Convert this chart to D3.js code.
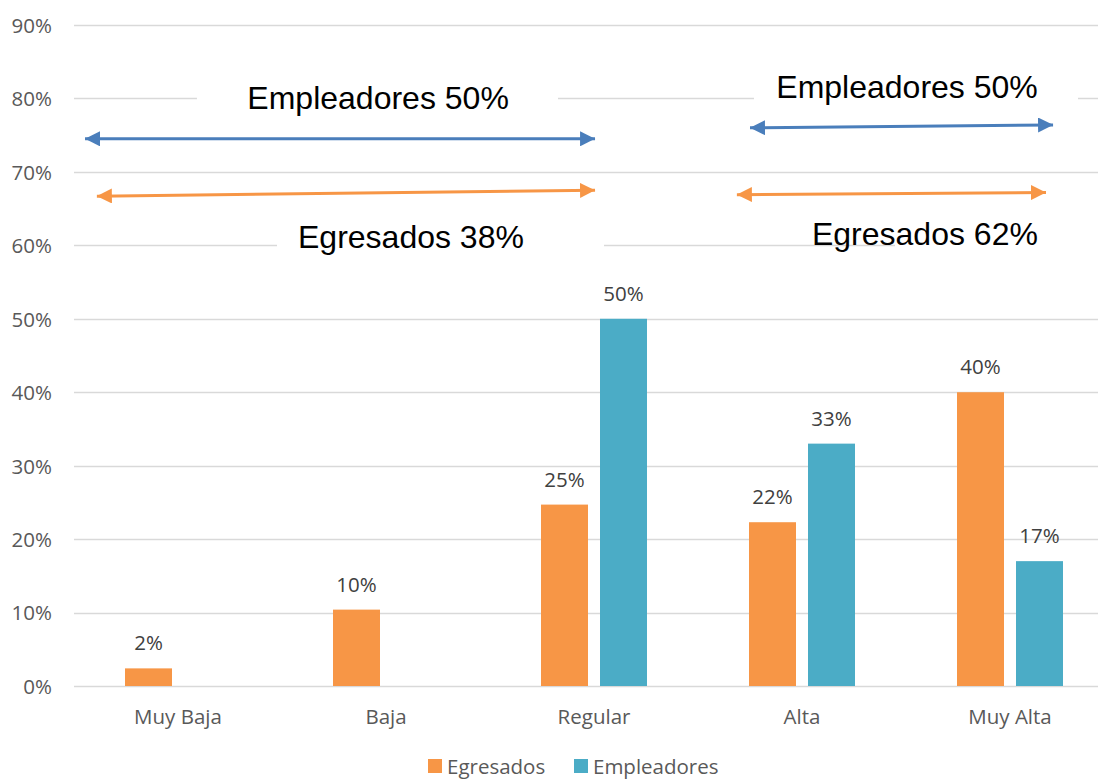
<!DOCTYPE html>
<html><head><meta charset="utf-8">
<script src="https://cdn.jsdelivr.net/npm/d3@7"></script>
<style>body{margin:0;background:#fff}</style>
</head><body>
<svg id="c" width="1098" height="780"></svg>
<script>
const categories = ["Muy Baja","Baja","Regular","Alta","Muy Alta"];
const series = ["Egresados","Empleadores"];
const egresados = [0.024, 0.104, 0.247, 0.223, 0.40];
const empleadores = [null, null, 0.50, 0.33, 0.17];
const egresadosLabels = ["2%","10%","25%","22%","40%"];
const empleadoresLabels = [null,null,"50%","33%","17%"];
const yTicks = [0,0.1,0.2,0.3,0.4,0.5,0.6,0.7,0.8,0.9];
// annotations: arrow endpoints in (category index, value)
const arrows = [
  {color:"#4A7EBB", x0:-0.447, y0:0.745, x1:2.005, y1:0.745},
  {color:"#F79646", x0:-0.39, y0:0.667, x1:2.005, y1:0.675},
  {color:"#4A7EBB", x0:2.75, y0:0.760, x1:4.207, y1:0.764},
  {color:"#F79646", x0:2.687, y0:0.669, x1:4.173, y1:0.672}
];
const notes = [
  {text:"Empleadores 50%", x:0.962, y:0.785, bx0:0.091, bx1:1.827},
  {text:"Egresados 38%", x:1.12, y:0.597, bx0:0.476, bx1:2.048},
  {text:"Empleadores 50%", x:3.505, y:0.80, bx0:2.769, bx1:4.327},
  {text:"Egresados 62%", x:3.591, y:0.60, bx0:3.447, bx1:4.913}
];
(function(){
const colors = {"Egresados":"#F79646","Empleadores":"#4BACC6"};
const FONT = "'Open Sans', Lato, sans-serif";
const FS = 20.5;

const svg = d3.select("#c");
const L = 74, R = 1114, T = 25, B = 686;
const x = d3.scaleBand().domain(categories).range([L,R]);
const xi = d3.scaleLinear().domain([-0.5,4.5]).range([L,R]);
const y = d3.scaleLinear().domain([0,0.9]).range([B,T]);
const bw = x.bandwidth();
const x1 = d3.scaleBand().domain(series).range([bw/2-53, bw/2+53]).paddingInner(0.2034);

svg.append("g").selectAll("line").data(yTicks).join("line")
  .attr("x1",L).attr("x2",1098).attr("y1",d=>Math.round(y(d))+0.5).attr("y2",d=>Math.round(y(d))+0.5)
  .attr("stroke","#d9d9d9").attr("stroke-width",1.5);

const yAxis = d3.axisLeft(y).tickValues(yTicks).tickFormat(d3.format(".0%")).tickSize(0).tickPadding(0);
const ga = svg.append("g").attr("transform",`translate(52,0)`).call(yAxis);
ga.select(".domain").remove();
ga.selectAll("text").attr("dy","0.36em").attr("font-family",FONT).attr("font-size",FS).attr("fill","#595959");

const gx = svg.append("g").attr("transform",`translate(0,${B})`).call(d3.axisBottom(x).tickSize(0).tickPadding(0));
gx.select(".domain").remove();
gx.selectAll("text").attr("dy",0).attr("y",38).attr("font-family",FONT).attr("font-size",FS).attr("fill","#595959");

const data = [];
categories.forEach((c,i)=>{
  data.push({c, s:"Egresados", v:egresados[i], l:egresadosLabels[i]});
  if (empleadores[i]!=null) data.push({c, s:"Empleadores", v:empleadores[i], l:empleadoresLabels[i]});
});
svg.append("g").selectAll("rect").data(data).join("rect")
  .attr("x",d=>x(d.c)+x1(d.s)).attr("width",x1.bandwidth())
  .attr("y",d=>y(d.v)).attr("height",d=>y(0)-y(d.v))
  .attr("fill",d=>colors[d.s]);
svg.append("g").selectAll("text").data(data).join("text")
  .attr("x",d=>x(d.c)+x1(d.s)+x1.bandwidth()/2).attr("y",d=>y(d.v)-18)
  .attr("text-anchor","middle").attr("font-family",FONT)
  .attr("font-size",FS).attr("fill","#404040").text(d=>d.l);

const ng = svg.append("g");
notes.forEach(n=>{
  ng.append("rect").attr("x",xi(n.bx0)).attr("width",xi(n.bx1)-xi(n.bx0))
    .attr("y",y(n.y)-34).attr("height",46).attr("fill","#fff");
  ng.append("text").attr("x",xi(n.x)).attr("y",y(n.y)).attr("text-anchor","middle")
    .attr("font-family","'Liberation Sans', Arial, sans-serif").attr("font-size",32).attr("fill","#000").text(n.text);
});

const defs = svg.append("defs");
["#4A7EBB","#F79646"].forEach((c,i)=>{
  defs.append("marker").attr("id","ah"+i).attr("viewBox","0 0 10 10").attr("refX",10).attr("refY",5)
    .attr("markerWidth",5).attr("markerHeight",5).attr("orient","auto-start-reverse").attr("markerUnits","strokeWidth")
    .append("path").attr("d","M0,0L10,5L0,10Z").attr("fill",c);
});
svg.append("g").selectAll("line").data(arrows).join("line")
  .attr("x1",d=>xi(d.x0)).attr("y1",d=>y(d.y0)).attr("x2",d=>xi(d.x1)).attr("y2",d=>y(d.y1))
  .attr("stroke",d=>d.color).attr("stroke-width",3)
  .attr("marker-start",d=>d.color==="#4A7EBB"?"url(#ah0)":"url(#ah1)")
  .attr("marker-end",d=>d.color==="#4A7EBB"?"url(#ah0)":"url(#ah1)");

const lg = svg.append("g");
const legPos = [428, 574];
series.forEach((s,i)=>{
  lg.append("rect").attr("x",legPos[i]).attr("y",759).attr("width",14).attr("height",14).attr("fill",colors[s]);
  lg.append("text").attr("x",legPos[i]+19).attr("y",774).attr("font-family",FONT)
    .attr("font-size",FS).attr("fill","#595959").text(s);
});
})();
</script>
</body></html>
